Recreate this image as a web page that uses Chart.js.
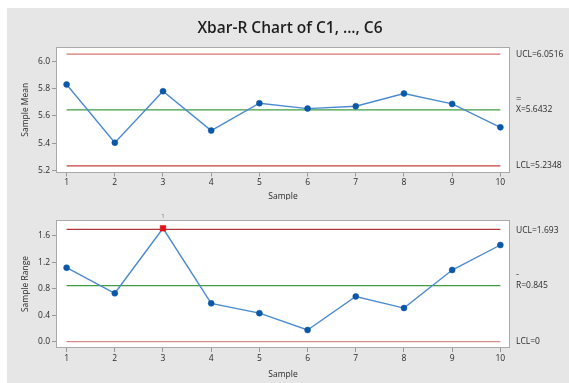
<!DOCTYPE html>
<html><head><meta charset="utf-8">
<script src="https://cdn.jsdelivr.net/npm/chart.js@4.4.1/dist/chart.umd.min.js"></script>
<style>
html,body{margin:0;padding:0;background:#fff;width:569px;height:383px;overflow:hidden;}
#bg{position:absolute;left:7px;top:8px;width:562px;height:375px;background:#e6e6e6;}
canvas{position:absolute;left:0;}
#c1{top:0}
#c2{top:200px}
</style></head><body>
<div id="bg"></div>
<canvas id="c1" width="569" height="200"></canvas>
<canvas id="c2" width="569" height="183"></canvas>
<script>
// ---- data ----
const samples = [1,2,3,4,5,6,7,8,9,10];
const xbarValues = [5.829,5.404,5.780,5.492,5.692,5.653,5.670,5.763,5.687,5.516];
const rangeValues = [1.116,0.730,1.710,0.578,0.430,0.176,0.682,0.507,1.081,1.458];
const xbarUCL = 6.0516, xbarCenter = 5.6432, xbarLCL = 5.2348;
const rangeUCL = 1.693, rangeCenter = 0.845, rangeLCL = 0;
const xbarTicks = [5.2,5.4,5.6,5.8,6.0];
const rangeTicks = [0.0,0.4,0.8,1.2,1.6];
const chartTitle = 'Xbar-R Chart of C1, ..., C6';

const FONT = '"Open Sans", "DejaVu Sans", sans-serif';
const TXT = '#2b2b2b';

const deco = {
  id: 'deco',
  beforeDraw(chart, args, o) {
    const {ctx, chartArea: a} = chart;
    ctx.save();
    ctx.fillStyle = '#ffffff';
    ctx.fillRect(a.left, a.top, a.right - a.left, a.bottom - a.top);
    ctx.restore();
  },
  afterDraw(chart, args, o) {
    const {ctx, chartArea: a} = chart;
    const ys = chart.scales.y, xs = chart.scales.x;
    ctx.save();
    ctx.strokeStyle = '#a9a9a9';
    ctx.lineWidth = 1;
    ctx.strokeRect(Math.round(a.left) + 0.5, Math.round(a.top) + 0.5,
                   Math.round(a.right - a.left) - 1, Math.round(a.bottom - a.top) - 1);
    ctx.fillStyle = TXT;
    // y title
    ctx.font = '8.5px ' + FONT;
    ctx.textAlign = 'center';
    ctx.textBaseline = 'middle';
    ctx.save();
    ctx.translate(26, (a.top + a.bottom) / 2);
    ctx.rotate(-Math.PI / 2);
    ctx.fillText(o.yTitle, 0, 0);
    ctx.restore();
    // x title
    ctx.fillText('Sample', (a.left + a.right) / 2, a.bottom + o.xTitleGap);
    // right labels
    ctx.textAlign = 'left';
    ctx.font = '8.5px ' + FONT;
    const lx = a.right + 6;
    ctx.fillText('UCL=' + o.ucl, lx, ys.getPixelForValue(o.ucl) + 1);
    const cy = ys.getPixelForValue(o.center);
    ctx.font = '9.5px ' + FONT;
    ctx.fillText(o.bar, lx, cy - 11);
    ctx.font = '8.5px ' + FONT;
    ctx.fillText(o.sym + '=' + o.center, lx, cy);
    ctx.fillText('LCL=' + o.lcl, lx, ys.getPixelForValue(o.lcl));
    // flags for points outside limits
    ctx.fillStyle = '#777';
    ctx.font = '6px ' + FONT;
    ctx.textAlign = 'center';
    o.values.forEach((v, i) => {
      if (v > o.ucl || v < o.lcl) ctx.fillText('1', xs.getPixelForValue(samples[i]), a.top - 4);
    });
    if (o.title) {
      ctx.fillStyle = '#1e1e1e';
      ctx.font = '600 15.5px ' + FONT;
      ctx.textAlign = 'center';
      ctx.fillText(o.title, 290, 29);
    }
    ctx.restore();
  }
};

function limitLine(v, color) {
  return {
    data: [{x: samples[0], y: v}, {x: samples[samples.length - 1], y: v}],
    borderColor: color, borderWidth: 1.3, pointRadius: 0, order: 2
  };
}

function makeChart(id, values, ucl, center, lcl, ticks, yMin, yMax, uclColor, lclColor, pad, xH, o) {
  const outside = values.map(v => v > ucl || v < lcl);
  return new Chart(document.getElementById(id), {
    type: 'line',
    data: {
      datasets: [
        {
          data: samples.map((s, i) => ({x: s, y: values[i]})),
          borderColor: '#4a8bcf', borderWidth: 1.4, tension: 0,
          pointStyle: outside.map(f => f ? 'rect' : 'circle'),
          pointRadius: outside.map(f => f ? 4 : 3),
          pointBackgroundColor: outside.map(f => f ? '#e3121b' : '#0b57a8'),
          pointBorderColor: outside.map(f => f ? '#e3121b' : '#0b57a8'),
          pointBorderWidth: 0.5,
          order: 1
        },
        limitLine(ucl, uclColor),
        limitLine(center, '#3f9c44'),
        limitLine(lcl, lclColor)
      ]
    },
    options: {
      responsive: false, animation: false,
      layout: {padding: pad},
      plugins: {legend: {display: false}, tooltip: {enabled: false}, deco: o},
      scales: {
        x: {
          type: 'linear', min: 0.78, max: 10.2,
          afterBuildTicks: s => { s.ticks = samples.map(v => ({value: v})); },
          afterFit: s => { s.height = xH; },
          grid: {drawOnChartArea: false, drawTicks: true, tickLength: 4, color: '#999'},
          border: {display: false},
          ticks: {font: {size: 8.5, family: FONT}, color: TXT, padding: 1, maxRotation: 0,
                  callback: v => String(v)}
        },
        y: {
          min: yMin, max: yMax,
          afterBuildTicks: s => { s.ticks = ticks.map(v => ({value: v})); },
          afterFit: s => { s.width = 56; },
          grid: {drawOnChartArea: false, drawTicks: true, tickLength: 4, color: '#999'},
          border: {display: false},
          ticks: {font: {size: 8.5, family: FONT}, color: TXT, padding: 2,
                  callback: v => Number(v).toFixed(1)}
        }
      }
    },
    plugins: [deco]
  });
}

makeChart('c1', xbarValues, xbarUCL, xbarCenter, xbarLCL, xbarTicks, 5.186, 6.103,
  '#d77373', '#c43e3e', {left: 0, top: 47, right: 59, bottom: 0}, 27.5,
  {yTitle: 'Sample Mean', xTitleGap: 24, ucl: xbarUCL, center: xbarCenter, lcl: xbarLCL,
   sym: 'X', bar: '=', values: xbarValues, title: chartTitle});

makeChart('c2', rangeValues, rangeUCL, rangeCenter, rangeLCL, rangeTicks, -0.095, 1.835,
  '#b03a3a', '#dc8c8c', {left: 0, top: 20, right: 59, bottom: 0}, 35,
  {yTitle: 'Sample Range', xTitleGap: 27, ucl: rangeUCL, center: rangeCenter, lcl: rangeLCL,
   sym: 'R', bar: '-', values: rangeValues, title: null});
</script>
</body></html>
